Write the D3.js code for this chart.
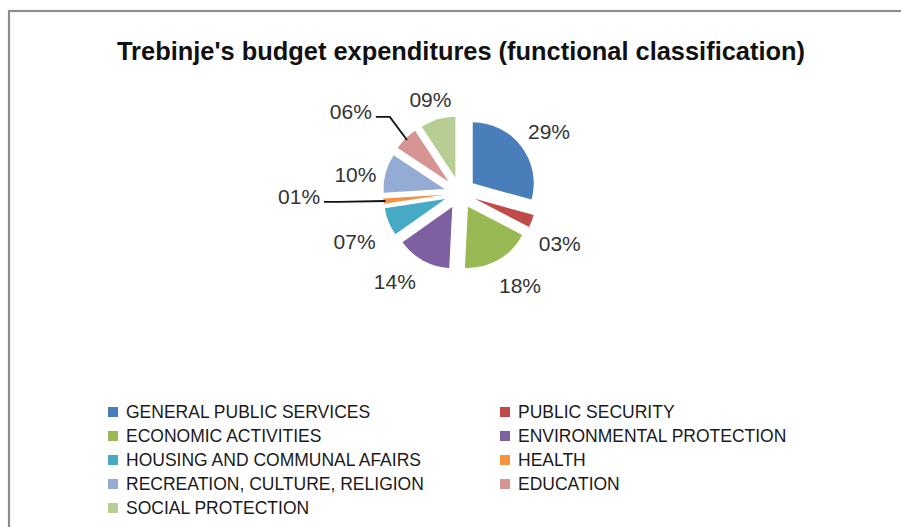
<!DOCTYPE html>
<html>
<head>
<meta charset="utf-8">
<script src="https://cdn.jsdelivr.net/npm/d3@7"></script>
<style>
  html, body { margin: 0; padding: 0; background: #fff; }
  svg { display: block; }
</style>
</head>
<body>
<svg id="chart" width="901" height="527"></svg>
<script>
// ---- data ----
const title = "Trebinje's budget expenditures (functional classification)";
const categories = [
  "GENERAL PUBLIC SERVICES",
  "PUBLIC SECURITY",
  "ECONOMIC ACTIVITIES",
  "ENVIRONMENTAL PROTECTION",
  "HOUSING AND COMMUNAL AFAIRS",
  "HEALTH",
  "RECREATION, CULTURE, RELIGION",
  "EDUCATION",
  "SOCIAL PROTECTION"
];
const values = [29.3, 3.3, 18.2, 14.4, 7.4, 1.4, 10.3, 6.4, 9.3];
const colors = ["#4a7ebb", "#be4b48", "#98b954", "#7d60a0", "#46aac5",
                "#f69240", "#94abd3", "#d69493", "#b7cd93"];

// ---- layout ----
const cx = 460, cy = 193, R = 61, explode = 16, labelGap = 12;
// labels drawn with leader lines: [angle in degrees, distance from centre]
const leaderLabels = { "HEALTH": [268.6, 161], "EDUCATION": [306.6, 136] };
// small placement nudges of the outside labels (layout only)
const labelNudge = {
  "GENERAL PUBLIC SERVICES": [1, 5],
  "PUBLIC SECURITY": [-4, 10],
  "ECONOMIC ACTIVITIES": [7, 0],
  "ENVIRONMENTAL PROTECTION": [-14, -5],
  "HOUSING AND COMMUNAL AFAIRS": [-2, 7],
  "RECREATION, CULTURE, RELIGION": [3, 10],
  "SOCIAL PROTECTION": [0, 5]
};

const svg = d3.select("#chart");

// frame
svg.append("rect")
  .attr("x", 9).attr("y", 11).attr("width", 1000).attr("height", 1000)
  .attr("fill", "none").attr("stroke", "#8e8e8e").attr("stroke-width", 2.2);

// title
svg.append("text")
  .attr("x", 461).attr("y", 60)
  .attr("text-anchor", "middle")
  .attr("font-family", "'Liberation Sans', Arial, sans-serif")
  .attr("font-weight", "bold")
  .attr("font-size", 25)
  .attr("textLength", 688)
  .attr("lengthAdjust", "spacingAndGlyphs")
  .attr("fill", "#111")
  .text(title);

const data = categories.map((c, i) => ({ name: c, value: values[i], color: colors[i] }));
const pie = d3.pie().sort(null).value(d => d.value);
const arcs = pie(data);
const arc = d3.arc().innerRadius(0).outerRadius(R);
const fmt = v => d3.format("02d")(Math.round(v)) + "%";
const total = d3.sum(values);

const g = svg.append("g").attr("transform", `translate(${cx},${cy})`);

function polar(angDeg, r) {
  const a = angDeg * Math.PI / 180;
  return [r * Math.sin(a), -r * Math.cos(a)];
}

g.selectAll("path.slice").data(arcs).join("path")
  .attr("class", "slice")
  .attr("d", arc)
  .attr("fill", d => d.data.color)
  .attr("transform", d => {
    const mid = (d.startAngle + d.endAngle) / 2;
    return `translate(${explode * Math.sin(mid)},${-explode * Math.cos(mid)})`;
  });

const labelFont = "'Liberation Sans', Arial, sans-serif";
arcs.forEach(d => {
  const mid = (d.startAngle + d.endAngle) / 2;
  const midDeg = mid * 180 / Math.PI;
  const txt = fmt(d.data.value / total * 100);
  const lead = leaderLabels[d.data.name];
  const t = g.append("text")
    .attr("text-anchor", "middle")
    .attr("dominant-baseline", "central")
    .attr("font-family", labelFont)
    .attr("font-size", 21)
    .attr("fill", "#333")
    .text(txt);
  let pos;
  if (lead) {
    pos = polar(lead[0], lead[1]);
  } else {
    // place the label box just outside the exploded slice
    const bb = t.node().getBBox();
    const hw = bb.width / 2, hh = 8;
    const ext = hw * Math.abs(Math.sin(mid)) + hh * Math.abs(Math.cos(mid));
    pos = polar(midDeg, R + explode + labelGap + ext);
    const n = labelNudge[d.data.name] || [0, 0];
    pos = [pos[0] + n[0], pos[1] + n[1]];
  }
  t.attr("x", pos[0]).attr("y", pos[1]);
  if (lead) {
    const bb = t.node().getBBox();
    const ex = explode * Math.sin(mid), ey = -explode * Math.cos(mid);
    const edge = [ex + (R - 2) * Math.sin(mid), ey - (R - 2) * Math.cos(mid)];
    const x0 = bb.x + bb.width + 4, y0 = pos[1] + 5;
    g.append("path")
      .attr("d", d3.line()([[x0, y0], [x0 + 14, y0], edge]))
      .attr("fill", "none").attr("stroke", "#111").attr("stroke-width", 1.8);
  }
});

// legend
const legend = svg.append("g");
const colX = [108, 500], rowY0 = 412, rowH = 24;
data.forEach((d, i) => {
  const col = i % 2, row = Math.floor(i / 2);
  const x = colX[col], y = rowY0 + row * rowH;
  legend.append("rect")
    .attr("x", x).attr("y", y - 5).attr("width", 10).attr("height", 10)
    .attr("fill", d.color);
  legend.append("text")
    .attr("x", x + 18).attr("y", y + 6)
    .attr("font-family", "'Liberation Sans', Arial, sans-serif")
    .attr("font-size", 17.5)
    .attr("fill", "#1a1a1a")
    .text(d.name);
});
</script>
</body>
</html>
